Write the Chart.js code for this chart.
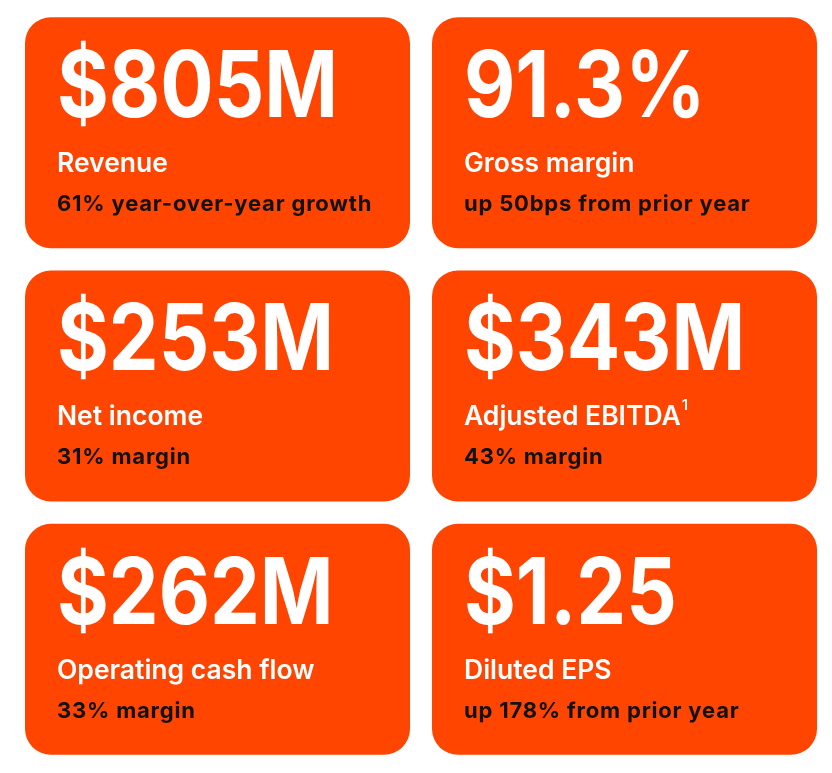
<!DOCTYPE html>
<html>
<head>
<meta charset="utf-8">
<script src="https://cdn.jsdelivr.net/npm/chart.js@4"></script>
<style>
  html, body { margin: 0; padding: 0; background: #fff; }
  #wrap { width: 832px; height: 773px; position: relative; }
</style>
</head>
<body>
<div id="wrap"><canvas id="kpiChart"></canvas></div>
<script>
// Card contents, in reading order (left to right, top to bottom)
const figures = ['$805M', '91.3%', '$253M', '$343M', '$262M', '$1.25'];
const titles = ['Revenue', 'Gross margin', 'Net income', 'Adjusted EBITDA', 'Operating cash flow', 'Diluted EPS'];
const footnotes = ['', '', '', '1', '', ''];
const notes = ['61% year-over-year growth', 'up 50bps from prior year', '31% margin', '43% margin', '33% margin', 'up 178% from prior year'];

// Grid: two columns, three rows
const columns = ['left', 'right'];
const rows = [0, 1, 2];

const ORANGE = '#ff4500';

// Each row is one dataset of floating bars, one bar per column
const datasets = rows.map(r => ({
  label: 'row ' + r,
  data: columns.map(() => [r + 0.044, r + 0.956]),
  backgroundColor: ORANGE,
  borderWidth: 0,
  borderRadius: 26,
  borderSkipped: false,
  grouped: false,
  categoryPercentage: 1,
  barPercentage: 0.946
}));

// Plugin that writes the figures on top of each card
const cardText = {
  id: 'cardText',
  afterDatasetsDraw(chart) {
    const ctx = chart.ctx;
    ctx.save();
    ctx.textBaseline = 'alphabetic';
    ctx.textAlign = 'left';
    chart.data.datasets.forEach((ds, di) => {
      chart.getDatasetMeta(di).data.forEach((bar, ci) => {
        const i = di * columns.length + ci;
        const left = bar.x - bar.width / 2 + 32;
        const top = Math.min(bar.y, bar.base);

        // big figure, squeezed a little to match the narrow display face
        ctx.fillStyle = '#ffffff';
        ctx.font = '700 92px Inter';
        ctx.letterSpacing = '0px';
        ctx.save();
        ctx.translate(left, top + 100);
        ctx.scale(0.86, 1);
        ctx.fillText(figures[i], 0, 0);
        ctx.restore();

        ctx.font = '600 26.5px Inter';
        ctx.fillText(titles[i], left, top + 155);
        if (footnotes[i]) {
          const w = ctx.measureText(titles[i]).width;
          ctx.font = '600 15px Inter';
          ctx.fillText(footnotes[i], left + w + 1, top + 140);
        }

        ctx.fillStyle = '#121212';
        ctx.font = '700 22px Inter';
        ctx.letterSpacing = '0.8px';
        ctx.fillText(notes[i], left, top + 194);
        ctx.letterSpacing = '0px';
      });
    });
    ctx.restore();
  }
};

new Chart(document.getElementById('kpiChart'), {
  type: 'bar',
  data: { labels: columns, datasets: datasets },
  options: {
    responsive: true,
    maintainAspectRatio: false,
    animation: false,
    layout: { padding: { left: 14, right: 4, top: 6, bottom: 7 } },
    plugins: { legend: { display: false }, tooltip: { enabled: false } },
    scales: {
      x: { display: false, offset: true },
      y: { display: false, reverse: true, min: 0, max: 3 }
    }
  },
  plugins: [cardText]
});
</script>
</body>
</html>
